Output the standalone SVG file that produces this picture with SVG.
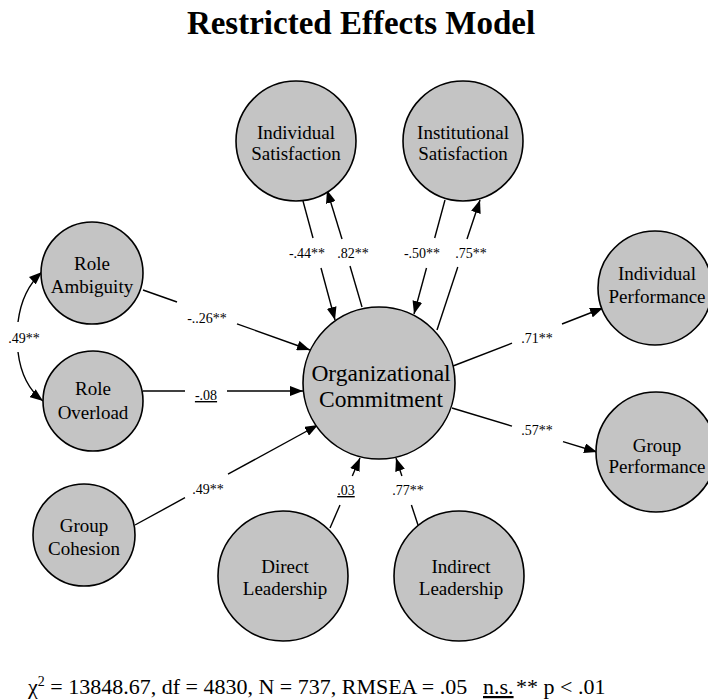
<svg xmlns="http://www.w3.org/2000/svg" width="708" height="700" viewBox="0 0 708 700">
<style>
.node circle{fill:#c4c4c4;stroke:#000;stroke-width:1.6}
.nt{font-family:"Liberation Serif","Times New Roman",serif;font-size:19px;fill:#000;text-anchor:middle}
.big{font-size:23.5px}
.lab{font-family:"Liberation Serif","Times New Roman",serif;font-size:14px;fill:#000;text-anchor:middle}
.u{text-decoration:underline}
.conn path,.conn line{stroke:#000;stroke-width:1.4;fill:none}
.title{font-family:"Liberation Serif","Times New Roman",serif;font-size:33px;font-weight:bold;text-anchor:middle}
.foot{font-family:"Liberation Serif","Times New Roman",serif;font-size:22px}
</style>
<defs>
<marker id="ah" markerUnits="userSpaceOnUse" markerWidth="14" markerHeight="10" refX="13" refY="5" orient="auto">
<path d="M0,0 L13,5 L0,10 z" fill="#000"/>
</marker>
</defs>
<rect width="708" height="700" fill="#fff"/>
<text class="title" x="361" y="34">Restricted Effects Model</text>

<g class="conn" id="connectors">
<line x1="143" y1="290" x2="177" y2="302"/>
<line x1="237" y1="323.8" x2="310" y2="350" marker-end="url(#ah)"/>
<line x1="143" y1="391" x2="185" y2="391"/>
<line x1="227" y1="391" x2="303" y2="391" marker-end="url(#ah)"/>
<line x1="135" y1="525" x2="185" y2="497.7"/>
<line x1="228" y1="474.2" x2="318" y2="425" marker-end="url(#ah)"/>
<line x1="330" y1="528" x2="340" y2="505"/>
<line x1="352.3" y1="476" x2="360" y2="458" marker-end="url(#ah)"/>
<line x1="418" y1="525" x2="411.4" y2="505"/>
<line x1="401.9" y1="476" x2="396" y2="458" marker-end="url(#ah)"/>
<line x1="303" y1="201" x2="313" y2="238"/>
<line x1="321" y1="268" x2="335" y2="320" marker-end="url(#ah)"/>
<line x1="362" y1="307" x2="350" y2="266"/>
<line x1="342" y1="239" x2="327" y2="190" marker-end="url(#ah)"/>
<line x1="445" y1="200" x2="434.7" y2="238"/>
<line x1="426.5" y1="268" x2="414" y2="314" marker-end="url(#ah)"/>
<line x1="437" y1="330" x2="457.8" y2="267"/>
<line x1="467" y1="239" x2="480" y2="200" marker-end="url(#ah)"/>
<line x1="453" y1="366" x2="512" y2="343.2"/>
<line x1="562" y1="324" x2="603" y2="308" marker-end="url(#ah)"/>
<line x1="452" y1="408" x2="512" y2="426.2"/>
<line x1="563" y1="441.7" x2="597" y2="452" marker-end="url(#ah)"/>
<path d="M18,322 Q22,290 42,272" marker-end="url(#ah)"/>
<path d="M18,352 Q22,385 43,401" marker-end="url(#ah)"/>
</g>

<g id="labels">
<text class="lab" x="207" y="323">-..26**</text>
<text class="lab u" x="206" y="400">-.08</text>
<text class="lab" x="208" y="494">.49**</text>
<text class="lab u" x="346" y="495">.03</text>
<text class="lab" x="408" y="495">.77**</text>
<text class="lab" x="307" y="258">-.44**</text>
<text class="lab" x="353" y="258">.82**</text>
<text class="lab" x="422" y="258">-.50**</text>
<text class="lab" x="471" y="258">.75**</text>
<text class="lab" x="537" y="343">.71**</text>
<text class="lab" x="537" y="435">.57**</text>
<text class="lab" x="24" y="343">.49**</text>
</g>

<g class="node" id="individual-satisfaction">
<circle cx="296" cy="141" r="60"/>
<text class="nt" x="296" y="139">Individual</text>
<text class="nt" x="296" y="160">Satisfaction</text>
</g>
<g class="node" id="institutional-satisfaction">
<circle cx="463" cy="141" r="60"/>
<text class="nt" x="463" y="139">Institutional</text>
<text class="nt" x="463" y="160">Satisfaction</text>
</g>
<g class="node" id="role-ambiguity">
<circle cx="92" cy="273" r="51"/>
<text class="nt" x="92" y="270">Role</text>
<text class="nt" x="92" y="293">Ambiguity</text>
</g>
<g class="node" id="role-overload">
<circle cx="93" cy="401" r="50"/>
<text class="nt" x="93" y="395">Role</text>
<text class="nt" x="93" y="419">Overload</text>
</g>
<g class="node" id="group-cohesion">
<circle cx="84" cy="535" r="51"/>
<text class="nt" x="84" y="532">Group</text>
<text class="nt" x="84" y="555">Cohesion</text>
</g>
<g class="node" id="organizational-commitment">
<circle cx="379" cy="383" r="76"/>
<text class="nt big" x="381" y="381">Organizational</text>
<text class="nt big" x="381" y="407">Commitment</text>
</g>
<g class="node" id="individual-performance">
<circle cx="655" cy="288" r="57"/>
<text class="nt" x="657" y="280">Individual</text>
<text class="nt" x="657" y="303">Performance</text>
</g>
<g class="node" id="group-performance">
<circle cx="656" cy="452" r="60"/>
<text class="nt" x="657" y="452">Group</text>
<text class="nt" x="657" y="473">Performance</text>
</g>
<g class="node" id="direct-leadership">
<circle cx="283" cy="576" r="65"/>
<text class="nt" x="285" y="573">Direct</text>
<text class="nt" x="285" y="595">Leadership</text>
</g>
<g class="node" id="indirect-leadership">
<circle cx="459" cy="576" r="65"/>
<text class="nt" x="461" y="573">Indirect</text>
<text class="nt" x="461" y="595">Leadership</text>
</g>

<text class="foot" x="28" y="694">χ<tspan font-size="14" dy="-8">2</tspan><tspan dy="8"> = 13848.67, df = 4830, N = 737, RMSEA = .05</tspan></text>
<text class="foot u" x="483" y="694" font-size="16">n.s.</text>
<text class="foot" x="516" y="694">** p &lt; .01</text>
</svg>
